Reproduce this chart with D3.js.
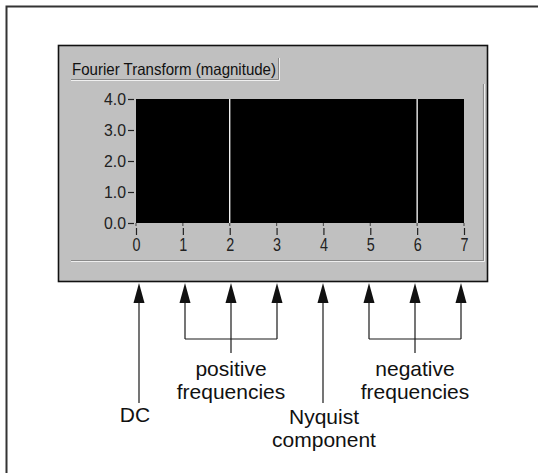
<!DOCTYPE html>
<html><head><meta charset="utf-8">
<script src="https://cdn.jsdelivr.net/npm/d3@7"></script>
<style>
html,body{margin:0;padding:0;background:#fff;}
svg{display:block;}
</style></head>
<body>
<svg id="chart" width="538" height="473"></svg>
<script>
// ---- data ----
const title = "Fourier Transform (magnitude)";
const bins = [0, 1, 2, 3, 4, 5, 6, 7];
const magnitude = [0, 0, 4, 0, 0, 0, 4, 0];
const yTicks = [0, 1, 2, 3, 4];
const xTicks = [0, 1, 2, 3, 4, 5, 6, 7];
const dcBins = [0];
const positiveBins = [1, 2, 3];
const nyquistBins = [4];
const negativeBins = [5, 6, 7];
const dcLabel = ["DC"];
const positiveLabel = ["positive", "frequencies"];
const nyquistLabel = ["Nyquist", "component"];
const negativeLabel = ["negative", "frequencies"];

const svg = d3.select("#chart");

// outer frame
svg.append("path").attr("d", "M6.5,480V6.5H545")
  .attr("fill", "none").attr("stroke", "#333").attr("stroke-width", 2);

// gray panel
svg.append("rect").attr("x", 58.5).attr("y", 45.5).attr("width", 429).attr("height", 236)
  .attr("fill", "#c0c0c0").attr("stroke", "#111").attr("stroke-width", 1.6);

// title label
const panelFont = "'Liberation Sans', Arial, sans-serif";
svg.append("text").attr("x", 72).attr("y", 74.5)
  .attr("font-family", panelFont).attr("font-size", 16.5)
  .attr("textLength", 204).attr("lengthAdjust", "spacingAndGlyphs")
  .attr("fill", "#111").text(title);
svg.append("path").attr("d", "M71,79.5H278.5V58").attr("fill", "none")
  .attr("stroke", "#888").attr("stroke-width", 1);
svg.append("path").attr("d", "M71,80.5H279.5V58").attr("fill", "none")
  .attr("stroke", "#f0f0f0").attr("stroke-width", 1);

// inner frame
svg.append("path").attr("d", "M71,260.5H483.5V84").attr("fill", "none")
  .attr("stroke", "#8a8a8a").attr("stroke-width", 1.2);
svg.append("path").attr("d", "M71,261.5H484.5V84").attr("fill", "none")
  .attr("stroke", "#eeeeee").attr("stroke-width", 1);

// scales
const x = d3.scaleLinear().domain([0, 7]).range([136, 464]);
const y = d3.scaleLinear().domain([0, 4]).range([223, 99]);

// plot area
svg.append("rect").attr("x", x(0)).attr("y", y(4))
  .attr("width", x(7) - x(0)).attr("height", y(0) - y(4)).attr("fill", "#000");

// magnitude stems
svg.append("g").selectAll("line").data(bins.filter((b, i) => magnitude[i] > 0)).join("line")
  .attr("x1", d => x(d)).attr("x2", d => x(d))
  .attr("y1", y(0)).attr("y2", d => y(magnitude[d]))
  .attr("stroke", "#fff").attr("stroke-width", 1.3);

// y axis
const yAxis = svg.append("g").attr("transform", `translate(${x(0) - 2},0)`)
  .call(d3.axisLeft(y).tickValues(yTicks).tickFormat(d3.format(".1f")).tickSize(6).tickPadding(2));
yAxis.select(".domain").remove();
yAxis.selectAll(".tick line").attr("stroke", "#222").attr("stroke-width", 1.2);
yAxis.selectAll(".tick text").attr("font-family", panelFont).attr("font-size", 17)
  .attr("fill", "#222").attr("textLength", 22).attr("lengthAdjust", "spacingAndGlyphs");

// x axis
const xAxis = svg.append("g").attr("transform", `translate(0,${y(0) + 5})`)
  .call(d3.axisBottom(x).tickValues(xTicks).tickFormat(d3.format("d")).tickSize(7).tickPadding(3));
xAxis.select(".domain").remove();
xAxis.selectAll(".tick line").attr("stroke", "#222").attr("stroke-width", 1.2);
xAxis.selectAll(".tick text").attr("font-family", panelFont).attr("font-size", 18.5)
  .attr("fill", "#222").attr("textLength", 8).attr("lengthAdjust", "spacingAndGlyphs");
// small marks at plot edge
svg.append("g").selectAll("line").data(xTicks).join("line")
  .attr("x1", d => x(d)).attr("x2", d => x(d))
  .attr("y1", y(0)).attr("y2", y(0) + 3)
  .attr("stroke", "#555").attr("stroke-width", 1.2);

// ---- annotation arrows ----
const ax = d3.scaleLinear().domain([0, 7]).range([139, 461]);
const tipY = 283, baseY = 303, bracketY = 339, stemY = 353, longY = 403;
const ann = svg.append("g").attr("stroke", "#1a1a1a").attr("fill", "none").attr("stroke-width", 1.2);
const allBins = dcBins.concat(positiveBins, nyquistBins, negativeBins);
svg.append("g").selectAll("path").data(allBins).join("path")
  .attr("d", d => `M${ax(d)},${tipY}L${ax(d) - 5.5},${baseY}L${ax(d) + 5.5},${baseY}Z`)
  .attr("fill", "#111");
// long lines
ann.selectAll("line.long").data(dcBins.concat(nyquistBins)).join("line")
  .attr("x1", d => ax(d)).attr("x2", d => ax(d)).attr("y1", baseY).attr("y2", longY);
// bracket groups
[positiveBins, negativeBins].forEach(g => {
  const gg = ann.append("g");
  gg.selectAll("line").data(g).join("line")
    .attr("x1", d => ax(d)).attr("x2", d => ax(d)).attr("y1", baseY)
    .attr("y2", (d, i) => i === 1 ? stemY : bracketY);
  gg.append("line").attr("x1", ax(g[0])).attr("x2", ax(g[g.length - 1]))
    .attr("y1", bracketY).attr("y2", bracketY);
});

// labels
const lblFont = "'Liberation Sans', Arial, Helvetica, sans-serif";
function label(lines, cx, y0) {
  const t = svg.append("text").attr("font-family", lblFont).attr("font-size", 21)
    .attr("fill", "#111").attr("text-anchor", "middle");
  lines.forEach((s, i) => t.append("tspan").attr("x", cx).attr("y", y0 + i * 23).text(s));
}
label(dcLabel, ax(dcBins[0]) - 4, 422);
label(positiveLabel, ax(positiveBins[1]), 376);
label(nyquistLabel, ax(nyquistBins[0]) + 1, 424);
label(negativeLabel, ax(negativeBins[1]), 376);
</script>
</body></html>
